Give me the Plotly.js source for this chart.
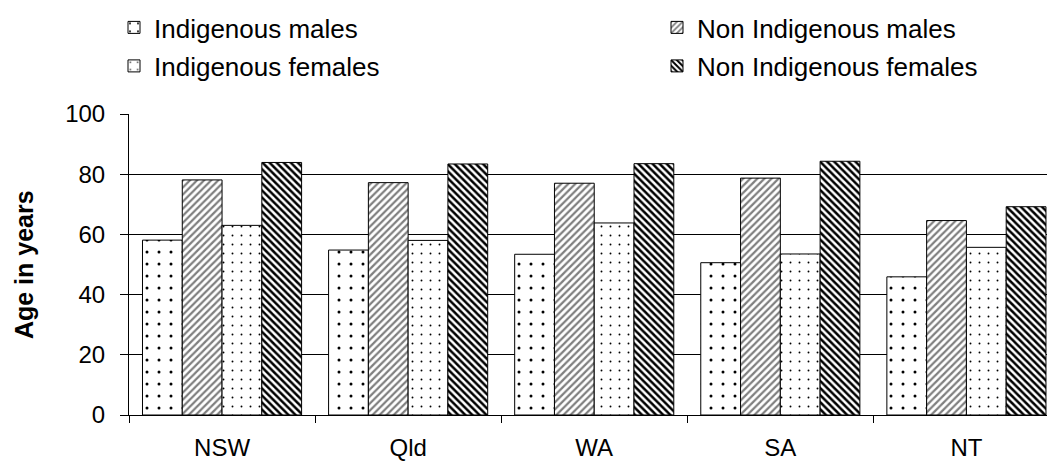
<!DOCTYPE html>
<html>
<head>
<meta charset="utf-8">
<script src="https://cdn.plot.ly/plotly-3.0.1.min.js"></script>
<style>html,body{margin:0;padding:0;background:#fff;}#chart{width:1047px;height:462px;}</style>
</head>
<body>
<div id="chart"></div>
<script>
const categories = ["NSW", "Qld", "WA", "SA", "NT"];
const indigenousMales = [58.1, 54.8, 53.4, 50.6, 45.9];
const nonIndigenousMales = [78.1, 77.2, 77.0, 78.7, 64.6];
const indigenousFemales = [63.0, 58.0, 63.8, 53.5, 55.7];
const nonIndigenousFemales = [83.9, 83.4, 83.5, 84.3, 69.2];
const seriesNames = ["Indigenous males", "Non Indigenous males", "Indigenous females", "Non Indigenous females"];
const yTicks = [0, 20, 40, 60, 80, 100];
const yTitle = "Age in years";

const FONT = "Liberation Sans, Arial, sans-serif";

function bar(name, y, pattern, legendId) {
  return {
    type: "bar", name: name, x: categories, y: y, legend: legendId,
    marker: { color: "#ffffff", line: { color: "#000000", width: 1 }, pattern: pattern },
    hoverinfo: "none"
  };
}

const data = [
  bar(seriesNames[0], indigenousMales, { shape: ".", fgcolor: "#000000", bgcolor: "#ffffff", size: 12, solidity: 0.05 }, "legend"),
  bar(seriesNames[1], nonIndigenousMales, { shape: "/", fgcolor: "#7f7f7f", bgcolor: "#ffffff", size: 5, solidity: 0.45 }, "legend2"),
  bar(seriesNames[2], indigenousFemales, { shape: ".", fgcolor: "#000000", bgcolor: "#ffffff", size: 9, solidity: 0.035 }, "legend3"),
  bar(seriesNames[3], nonIndigenousFemales, { shape: "\\", fgcolor: "#000000", bgcolor: "#ffffff", size: 5, solidity: 0.5 }, "legend4")
];

function leg(x, y) {
  return {
    xref: "container", yref: "container", x: x, y: y, xanchor: "left", yanchor: "middle",
    font: { family: FONT, size: 26, color: "#000000" }, bgcolor: "rgba(0,0,0,0)", borderwidth: 0
  };
}

const W = 1047, H = 462;
const ML = 128.5, MR = 0, MT = 114.3, MB = 47.3;
const plotW = W - ML - MR;

const layout = {
  width: W, height: H,
  paper_bgcolor: "#ffffff", plot_bgcolor: "#ffffff",
  font: { family: FONT, size: 24, color: "#000000" },
  margin: { l: ML, r: MR, t: MT, b: MB, pad: 0, autoexpand: false },
  barmode: "group", bargap: 0.145, bargroupgap: 0,
  showlegend: true,
  legend: leg(114 / W, 1 - 27.5 / H),
  legend2: leg(657 / W, 1 - 27.5 / H),
  legend3: leg(114 / W, 1 - 66 / H),
  legend4: leg(657 / W, 1 - 66 / H),
  xaxis: {
    type: "category", range: [-0.5, 4.433], fixedrange: true, automargin: false,
    showline: true, linecolor: "#000000", linewidth: 1,
    ticks: "outside", tickson: "boundaries", ticklen: 7, tickcolor: "#000000",
    showgrid: false, zeroline: false, ticklabelstandoff: 11,
    tickfont: { family: FONT, size: 24, color: "#000000" }
  },
  yaxis: {
    range: [0, 100], tickvals: yTicks, ticktext: yTicks.map(String), automargin: false,
    showline: true, linecolor: "#000000", linewidth: 1,
    ticks: "outside", ticklen: 8, tickcolor: "#000000",
    showgrid: true, gridcolor: "#000000", gridwidth: 1, zeroline: false,
    ticklabelstandoff: 10,
    tickfont: { family: FONT, size: 24, color: "#000000" }
  },
  annotations: [{
    text: yTitle, textangle: -90, showarrow: false,
    xref: "paper", yref: "paper", x: (23 - ML) / plotW, y: 0.5, xanchor: "center", yanchor: "middle",
    font: { family: FONT, size: 25, color: "#000000", weight: "bold" }
  }]
};

Plotly.newPlot("chart", data, layout, { staticPlot: true, displayModeBar: false });
</script>
</body>
</html>
